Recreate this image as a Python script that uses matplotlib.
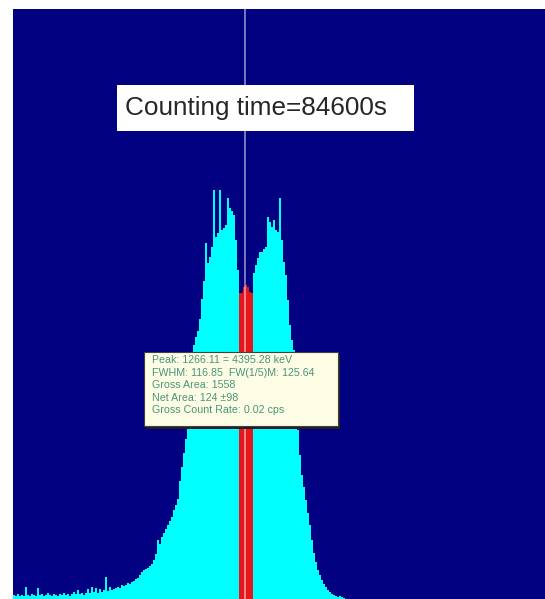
import numpy as np
import matplotlib
matplotlib.use('Agg')
import matplotlib.pyplot as plt
from matplotlib.patches import Rectangle

# Spectrum counts, one value per 2-channel bin starting at channel 1034
counts = [
    4, 3, 5, 3, 4, 3, 12, 4, 3, 5,
    4, 3, 11, 4, 5, 3, 4, 6, 4, 3,
    5, 4, 3, 5, 4, 6, 4, 5, 3, 5,
    7, 5, 9, 5, 6, 4, 6, 10, 6, 12,
    7, 11, 6, 10, 7, 9, 22, 8, 12, 9,
    10, 11, 12, 11, 14, 13, 14, 16, 15, 17,
    18, 20, 21, 24, 27, 29, 30, 31, 33, 35,
    39, 45, 59, 55, 62, 66, 70, 74, 78, 82,
    89, 94, 100, 118, 132, 146, 160, 185, 215, 245,
    254, 262, 268, 280, 300, 318, 356, 336, 342, 352,
    409, 362, 366, 409, 369, 371, 374, 401, 391, 388,
    384, 359, 329, 306, 306, 312, 314, 312, 307, 306,
    326, 334, 341, 347, 347, 350, 352, 382, 377, 372,
    379, 369, 367, 401, 359, 337, 324, 299, 274, 259,
    249, 199, 169, 144, 124, 112, 99, 86, 74, 59,
    46, 37, 29, 24, 19, 15, 12, 9, 7, 5,
    4, 3, 2, 3, 2, 1,
]
first_channel = 1034
bin_width = 2
channel_range = (1034, 1566)
count_max = 590

# region of interest (red) and cursor
roi_start, roi_end = 1260, 1274
cursor_channel = 1266

title_text = "Counting time=84600s"
info_lines = [
    "Peak: 1266.11 = 4395.28 keV",
    "FWHM: 116.85  FW(1/5)M: 125.64",
    "Gross Area: 1558",
    "Net Area: 124 \u00b198",
    "Gross Count Rate: 0.02 cps",
]

counts = np.array(counts)
edges = first_channel + bin_width * np.arange(len(counts) + 1)

fig = plt.figure(figsize=(5.45, 5.99), dpi=100)
ax = fig.add_axes([13 / 545, 0, 532 / 545, 590 / 599])
ax.set_facecolor('#000080')
for s in ax.spines.values():
    s.set_visible(False)
ax.set_xticks([])
ax.set_yticks([])
ax.set_xlim(*channel_range)
ax.set_ylim(0, count_max)

# whole spectrum in cyan
ax.stairs(counts, edges, fill=True, color='#00ffff', linewidth=0, zorder=2)

# ROI part in red
in_roi = (edges[:-1] >= roi_start) & (edges[1:] <= roi_end)
idx = np.where(in_roi)[0]
ax.stairs(counts[idx], edges[idx[0]:idx[-1] + 2], fill=True,
          color='#e3171c', linewidth=0, zorder=3)

# cursor line
ax.axvline(cursor_channel, color='white', alpha=0.55, lw=1.2, zorder=4)

# counting time label
ax.add_patch(Rectangle((0.1955, 0.793), 0.5585, 0.078, transform=ax.transAxes,
                       facecolor='white', edgecolor='none', zorder=5))
ax.text(0.211, 0.832, title_text, transform=ax.transAxes, fontsize=18.8,
        family='Liberation Sans', color='#262626', va='center', ha='left', zorder=6)

# peak info tooltip
ax.add_patch(Rectangle((0.250, 0.288), 0.365, 0.126, transform=ax.transAxes,
                       facecolor='#202020', edgecolor='none', zorder=5))
ax.add_patch(Rectangle((0.246, 0.293), 0.365, 0.126, transform=ax.transAxes,
                       facecolor='#fdfde6', edgecolor='#404040', lw=0.8, zorder=6))
for i, line in enumerate(info_lines):
    ax.text(0.261, 0.405 - i * 0.0213, line, transform=ax.transAxes,
            fontsize=7.7, family='Liberation Sans', color='#4a9379',
            va='center', ha='left', zorder=7)

fig.savefig('out.png', dpi=100, facecolor='white')
